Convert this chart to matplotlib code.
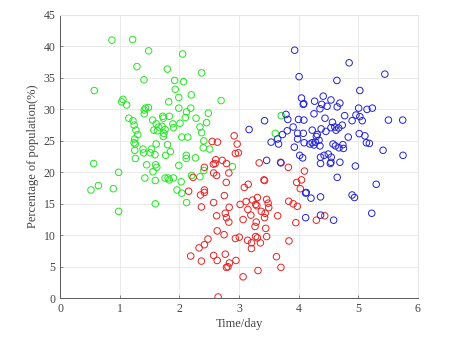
import matplotlib.pyplot as plt

plt.rcParams['font.family'] = ['Liberation Serif', 'DejaVu Serif']

# cluster 1 (green)
green_x = [0.867, 1.215, 0.571, 1.483, 1.287, 1.405, 1.797, 2.054, 2.373, 1.92, 2.07, 1.93,
           2.20, 1.99, 1.82, 2.70, 1.052, 1.03, 1.114, 1.41, 1.48, 1.43, 1.41, 1.99, 2.19,
           2.12, 2.485, 2.10, 2.28, 1.15, 1.22, 1.72, 1.73, 1.83, 1.55, 1.61, 1.24, 2.01,
           2.457, 1.65, 1.71, 1.89, 1.90, 2.345, 1.57, 1.27, 1.76, 1.63, 2.373, 1.30, 1.74,
           1.73, 1.25, 2.04, 2.14, 1.24, 1.61, 1.26, 2.41, 1.80, 1.39, 1.53, 2.40, 2.51,
           1.25, 1.40, 1.85, 1.51, 1.59, 1.77, 2.115, 2.115, 2.27, 1.26, 1.45, 1.60, 1.62,
           1.99, 2.89, 1.556, 2.41, 0.98, 2.345, 1.42, 1.76, 1.81, 1.83, 1.90, 1.595, 2.03,
           2.205, 0.56, 0.64, 0.515, 0.89, 1.96, 2.04, 2.12, 1.595, 0.98, 3.61, 3.71]
green_y = [41.0, 41.1, 33.0, 39.3, 36.8, 34.7, 36.4, 38.8, 35.8, 34.6, 34.4, 33.2,
           32.3, 31.9, 31.2, 31.4, 31.6, 31.2, 30.7, 29.9, 30.3, 30.2, 29.3, 30.2, 30.2,
           29.6, 29.4, 28.7, 28.6, 28.6, 28.2, 28.9, 28.6, 28.9, 28.3, 27.7, 27.5, 27.8,
           27.9, 27.2, 27.3, 27.7, 27.1, 27.2, 26.7, 26.7, 26.8, 26.6, 26.3, 26.0, 26.2,
           25.7, 25.3, 25.6, 25.6, 24.7, 24.5, 24.5, 25.0, 24.4, 23.7, 23.7, 23.9, 23.7,
           23.5, 23.1, 23.3, 23.1, 22.8, 22.7, 22.7, 22.2, 22.3, 22.2, 21.2, 21.2, 20.8,
           21.1, 20.9, 20.1, 20.3, 20.0, 19.3, 19.1, 19.1, 19.1, 18.8, 19.1, 18.7, 18.5,
           19.5, 21.4, 17.9, 17.2, 17.4, 17.2, 16.7, 15.2, 15.0, 13.8, 26.2, 29.0]

# cluster 2 (red)
red_x = [2.55, 2.64, 2.92, 2.97, 2.99, 2.94, 2.72, 2.61, 2.57, 2.60, 2.79, 3.34, 3.70,
         3.83, 2.42, 2.83, 2.575, 2.625, 2.23, 2.42, 2.42, 2.355, 2.155, 2.787, 3.155,
         3.09, 3.42, 3.43, 3.97, 4.05, 4.10, 4.03, 2.755, 2.575, 2.37, 2.836, 3.02, 3.12,
         3.31, 3.23, 3.28, 3.30, 3.15, 3.376, 3.465, 3.49, 3.50, 3.44, 3.43, 3.835, 3.91,
         3.98, 3.65, 3.20, 2.77, 2.79, 2.83, 2.625, 3.07, 3.29, 3.27, 3.45, 3.955, 4.30,
         4.44, 2.635, 2.75, 2.48, 2.94, 3.005, 3.145, 3.21, 3.28, 3.31, 3.36, 3.465, 3.84,
         2.42, 2.33, 3.21, 2.77, 2.19, 2.575, 3.63, 2.37, 2.635, 2.95, 2.84, 2.815, 2.79,
         3.705, 3.32, 3.07, 2.65]
red_y = [24.9, 24.8, 25.8, 24.5, 23.1, 23.0, 21.9, 22.0, 21.3, 21.4, 21.4, 21.5, 21.6,
         20.8, 20.8, 19.9, 19.9, 19.5, 19.2, 17.2, 16.8, 16.4, 17.0, 18.4, 18.1,
         17.6, 18.8, 18.7, 18.4, 18.8, 20.2, 17.4, 16.3, 15.2, 14.5, 14.45, 14.9, 15.35,
         16.0, 15.6, 14.9, 14.7, 14.1, 13.8, 15.7, 15.1, 14.4, 13.5, 12.8, 15.4, 15.0,
         14.6, 13.1, 13.2, 13.5, 12.8, 12.1, 13.1, 12.5, 12.1, 11.4, 11.1, 12.0, 12.4,
         13.1, 10.7, 10.1, 9.4, 9.5, 9.7, 9.2, 8.8, 9.8, 9.6, 8.8, 9.8, 9.1,
         8.5, 8.0, 7.9, 7.0, 6.7, 6.8, 6.6, 5.9, 6.0, 6.0, 5.6, 5.0, 4.9,
         4.9, 4.4, 3.4, 0.2]

# cluster 3 (blue)
blue_x = [3.935, 4.85, 5.45, 4.01, 4.645, 5.03, 4.415, 4.05, 4.27, 4.545, 4.695, 4.09, 4.08,
          4.39, 4.48, 4.65, 4.36, 5.01, 5.15, 5.24, 4.26, 4.775, 4.965, 5.03, 4.90, 5.07,
          5.51, 5.75, 3.79, 3.43, 3.82, 4.00, 4.09, 4.445, 4.57, 4.735, 3.17, 3.91, 4.23,
          4.38, 4.545, 4.61, 4.675, 4.63, 4.46, 3.81, 3.73, 3.985, 4.08, 4.315, 5.02, 5.115,
          4.30, 4.835, 3.54, 3.65, 3.665, 3.985, 4.095, 4.23, 4.19, 4.345, 4.285, 4.26, 4.36,
          4.58, 4.62, 4.68, 4.745, 4.755, 5.14, 5.19, 3.93, 5.42, 5.755, 4.02, 4.07, 4.37,
          4.43, 4.50, 4.55, 4.37, 4.535, 4.545, 4.695, 4.955, 3.465, 3.705, 4.65, 5.305,
          4.12, 4.13, 4.37, 4.21, 4.90, 4.94, 4.37, 5.23, 4.12, 4.59]
blue_y = [39.4, 37.4, 35.6, 35.2, 34.6, 33.0, 32.1, 31.8, 31.3, 31.5, 31.0, 30.9, 30.8,
          30.8, 30.5, 30.4, 30.1, 30.2, 30.0, 30.2, 29.3, 29.0, 29.1, 28.85, 28.2, 28.2,
          28.3, 28.3, 29.2, 28.2, 28.4, 28.4, 28.3, 28.6, 27.95, 27.5, 26.8, 27.2, 26.7,
          26.9, 27.1, 27.2, 27.05, 26.7, 26.5, 26.6, 26.0, 26.2, 26.2, 26.0, 26.15, 25.8,
          25.7, 25.6, 24.8, 25.3, 24.5, 25.3, 24.7, 24.7, 24.5, 25.1, 24.8, 24.35, 24.2,
          24.5, 24.2, 23.9, 24.4, 23.8, 24.7, 24.6, 24.0, 23.5, 22.7, 22.7, 22.3, 22.4,
          22.7, 22.9, 22.4, 21.4, 21.4, 21.6, 21.6, 21.0, 21.9, 21.5, 19.2, 18.1,
          16.7, 16.8, 16.1, 15.9, 16.4, 16.0, 13.2, 13.5, 12.8, 12.4]

fig = plt.figure(figsize=(4.5, 3.48), dpi=100)
ax = fig.add_axes([0.134, 0.143, 0.794, 0.814])

ax.scatter(green_x, green_y, s=22, facecolors='none', edgecolors='#22e622', linewidths=0.7)
ax.scatter(red_x, red_y, s=22, facecolors='none', edgecolors='#e62222', linewidths=0.7)
ax.scatter(blue_x, blue_y, s=22, facecolors='none', edgecolors='#2222d2', linewidths=0.7)

ax.set_xlim(0, 6)
ax.set_ylim(0, 45)
ax.set_xticks(range(0, 7))
ax.set_yticks(range(0, 46, 5))
ax.grid(True, color='#e6e6e6', linewidth=0.6)
ax.set_axisbelow(True)
for side in ['top', 'right']:
    ax.spines[side].set_color('#e6e6e6')
for side in ['left', 'bottom']:
    ax.spines[side].set_color('#5a5a5a')
    ax.spines[side].set_linewidth(0.7)
ax.tick_params(direction='in', length=2.5, width=0.5, colors='#5a5a5a', labelsize=8.5,
               labelcolor='#444444', top=False, right=False)
ax.set_xlabel('Time/day', fontsize=9, color='#444444', labelpad=2)
ax.set_ylabel('Percentage of population(%)', fontsize=9, color='#444444', labelpad=3)

plt.savefig('out.png')
